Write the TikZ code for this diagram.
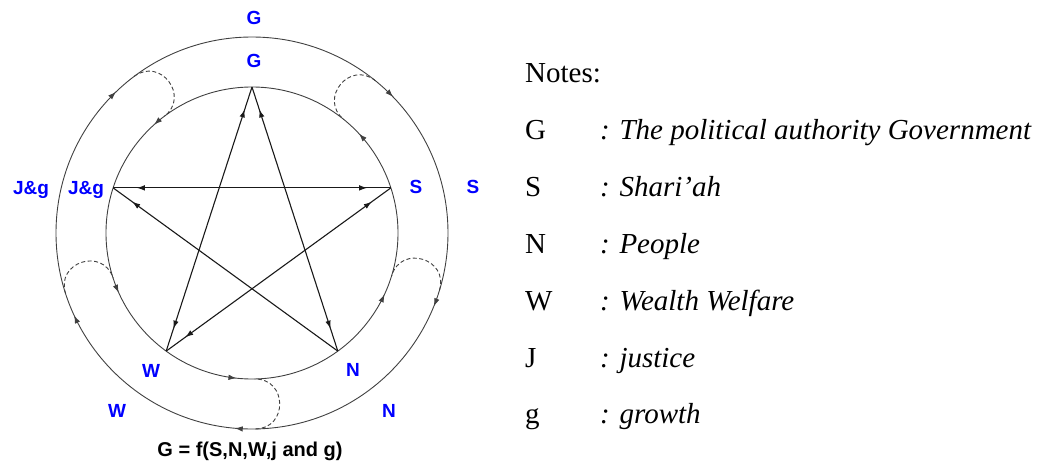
\documentclass[tikz,border=0pt]{standalone}
\usepackage{fontspec}
\setmainfont{Liberation Serif}
\setsansfont{Liberation Sans}
\usetikzlibrary{arrows.meta,decorations.markings}

\tikzset{
  ring/.style={draw=black!75, line width=0.9pt},
  chord/.style={draw=black!90, line width=1.1pt},
  turn/.style={draw=black!75, line width=0.9pt, dash pattern=on 4pt off 2.5pt},
  lab/.style={text=blue, font=\fontsize{19}{19}\selectfont\sffamily\bfseries, anchor=base, inner sep=0pt},
  capt/.style={font=\fontsize{20}{20}\selectfont\sffamily\bfseries, anchor=base, inner sep=0pt},
  note/.style={font=\fontsize{29}{29}\selectfont, anchor=base west, inner sep=0pt},
  % arrow tips near both ends of a chord
  both/.style={postaction={decorate}, decoration={markings,
    mark=at position 0.085 with {\arrowreversed{Latex[length=8pt,width=5.5pt]}},
    mark=at position 0.915 with {\arrow{Latex[length=8pt,width=5.5pt]}}}},
  single/.style={postaction={decorate}, decoration={markings,
    mark=at position 0.915 with {\arrow{Latex[length=8pt,width=5.5pt]}}}},
  % clockwise tips on the outer ring
  cwtips/.style={postaction={decorate}, decoration={markings,
    mark=at position 0.122 with {\arrowreversed{Latex[length=8pt,width=5.5pt]}},
    mark=at position 0.372 with {\arrowreversed{Latex[length=8pt,width=5.5pt]}},
    mark=at position 0.569 with {\arrowreversed{Latex[length=8pt,width=5.5pt]}},
    mark=at position 0.736 with {\arrowreversed{Latex[length=8pt,width=5.5pt]}},
    mark=at position 0.939 with {\arrowreversed{Latex[length=8pt,width=5.5pt]}}}},
  % counter-clockwise tips on the inner ring
  ccwtips/.style={postaction={decorate}, decoration={markings,
    mark=at position 0.119 with {\arrow{Latex[length=8pt,width=5.5pt]}},
    mark=at position 0.367 with {\arrow{Latex[length=8pt,width=5.5pt]}},
    mark=at position 0.567 with {\arrow{Latex[length=8pt,width=5.5pt]}},
    mark=at position 0.733 with {\arrow{Latex[length=8pt,width=5.5pt]}},
    mark=at position 0.931 with {\arrow{Latex[length=8pt,width=5.5pt]}}}},
}

\begin{document}
\begin{tikzpicture}[x=1pt,y=1pt]
\useasboundingbox (-252,-228) rectangle (795,233);

% --- Rings ---
\draw[ring,cwtips] (0:196) arc[start angle=0, end angle=360, radius=196];
\draw[ring,ccwtips] (0:146) arc[start angle=0, end angle=360, radius=146];

% --- Star points ---
\coordinate (G) at (90:146);
\coordinate (S) at (18:146);
\coordinate (N) at (-54:146);
\coordinate (W) at (234:146);
\coordinate (J) at (162:146);

% --- Star chords ---
\draw[chord,both] (W) -- (G);
\draw[chord,both] (N) -- (G);
\draw[chord,both] (J) -- (S);
\draw[chord,both] (W) -- (S);
\draw[chord,single] (N) -- (J);

% --- Dashed turns between the rings (angle / bulge) ---
\foreach \a/\b in {127/37, 51/141, -17/73, -89/1, 198/108}
  \draw[turn] (\a:196) .. controls +(\b:33) and +(\b:33) .. (\a:146);

% --- Labels ---
\node[lab] (Gout) at (2,208) {G};
\node[lab] (Gin) at (2,165) {G};
\node[lab] (Jout) at (-221,39) {J\&g};
\node[lab] (Jin) at (-166,39) {J\&g};
\node[lab] (Sin) at (164,40) {S};
\node[lab] (Sout) at (221,40) {S};
\node[lab] (Win) at (-101,-144) {W};
\node[lab] (Wout) at (-135,-184) {W};
\node[lab] (Nin) at (101,-143) {N};
\node[lab] (Nout) at (137,-184) {N};
\node[capt] (form) at (-2,-223) {G = f(S,N,W,j and g)};

% --- Notes ---
\node[note] (head) at (273,150) {Notes:};
\foreach \k/\t [count=\i] in {G/The political authority Government, S/Shari'ah,
    N/People, W/Wealth Welfare, J/justice, g/growth} {
  \node[note] (key\i) at (273,150-56.8*\i) {\k};
  \node[note] (desc\i) at (348,150-56.8*\i) {\itshape : \t};
}

\end{tikzpicture}
\end{document}
